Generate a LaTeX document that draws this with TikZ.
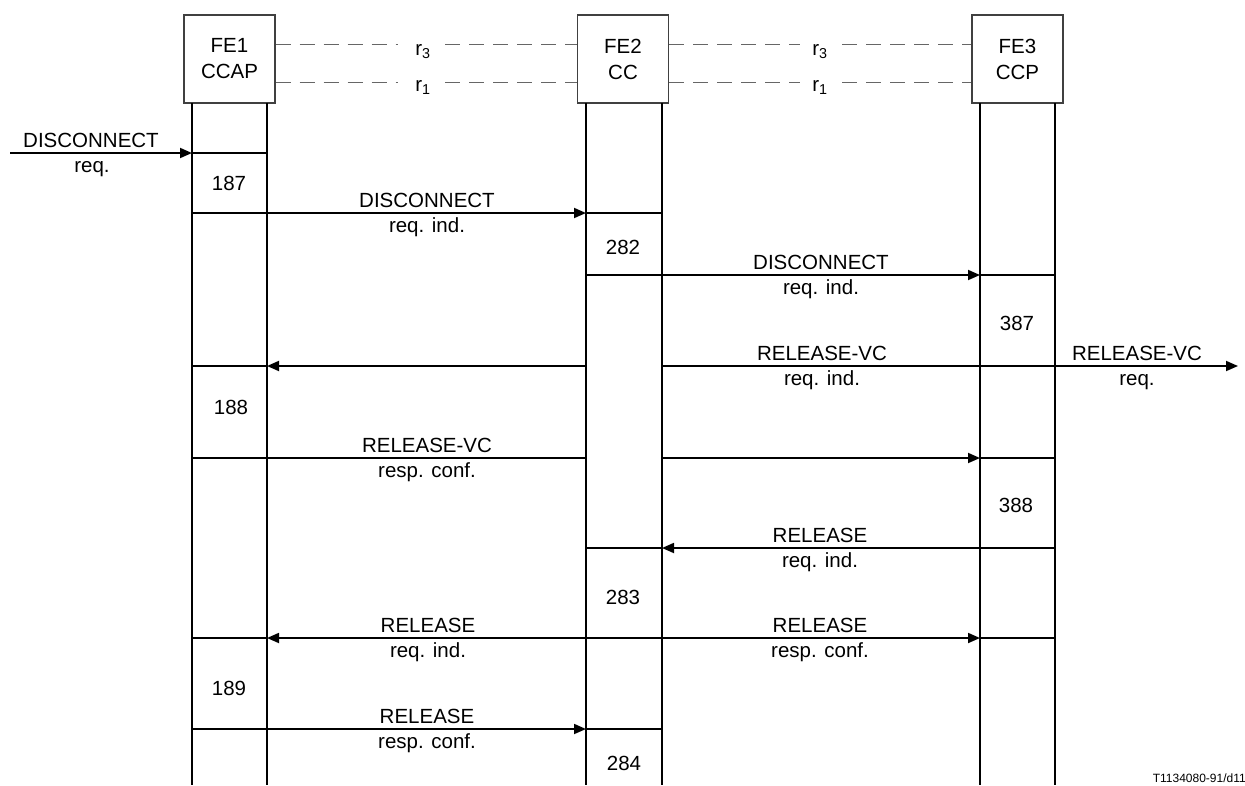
\documentclass[tikz,border=0pt]{standalone}
\usepackage{fontspec}
\setmainfont{Liberation Sans}
\usetikzlibrary{arrows.meta}
\begin{document}
\begin{tikzpicture}[x=1pt,y=-1pt,
  txt/.style={font=\fontsize{20.5}{24}\selectfont, inner sep=0pt},
  up/.style={txt, anchor=base},
  num/.style={txt},
  febox/.style={draw=black!75, line width=1.2pt, minimum width=91pt, minimum height=88pt, inner sep=0pt, align=center, font=\fontsize{20.5}{26}\selectfont},
  life/.style={line width=1.8pt},
  msg/.style={line width=1.8pt},
  arr/.style={msg, -{Triangle[length=12pt,width=10pt]}},
  dsh/.style={draw=black!60, line width=1pt, dash pattern=on 15pt off 9pt}]
\useasboundingbox (0,0) rectangle (1245,785);

% entity boxes
\node[febox] (fe1) at (229.5,59) {FE1\\CCAP};
\node[febox] (fe2) at (623,59) {FE2\\CC};
\node[febox] (fe3) at (1017.5,59) {FE3\\CCP};

% lifeline tops
\coordinate (A1) at (192,103);
\coordinate (A2) at (267,103);
\coordinate (B1) at (586,103);
\coordinate (B2) at (662,103);
\coordinate (C1) at (980,103);
\coordinate (C2) at (1055,103);
\coordinate (bot) at (0,785);
\foreach \l in {A1,A2,B1,B2,C1,C2} \draw[life] (\l) -- (\l |- bot);

% relationship lines
\coordinate (d3) at (0,44);
\coordinate (d1) at (0,82);
\coordinate (g1) at (398,0);
\coordinate (g2) at (445,0);
\coordinate (g3) at (800,0);
\coordinate (g4) at (842,0);
\draw[dsh] (fe1.east |- d3) -- (g1 |- d3);
\draw[dsh] (g2 |- d3) -- (fe2.west |- d3);
\draw[dsh] (fe1.east |- d1) -- (g1 |- d1);
\draw[dsh] (g2 |- d1) -- (fe2.west |- d1);
\draw[dsh] (fe2.east |- d3) -- (g3 |- d3);
\draw[dsh] (g4 |- d3) -- (fe3.west |- d3);
\draw[dsh] (fe2.east |- d1) -- (g3 |- d1);
\draw[dsh] (g4 |- d1) -- (fe3.west |- d1);
\node[up] (r3a) at (423,55) {r\textsubscript{3}};
\node[up] (r1a) at (423,91) {r\textsubscript{1}};
\node[up] (r3b) at (820,55) {r\textsubscript{3}};
\node[up] (r1b) at (820,91) {r\textsubscript{1}};

% rows
\coordinate (m1) at (0,153);
\coordinate (m2) at (0,213);
\coordinate (m3) at (0,275);
\coordinate (m4) at (0,366);
\coordinate (m5) at (0,458);
\coordinate (m6) at (0,548);
\coordinate (m7) at (0,638);
\coordinate (m8) at (0,729);
\coordinate (inL) at (10,153);
\coordinate (outR) at (1238,366);

% 1 DISCONNECT req.
\draw[arr] (inL) -- (A1 |- m1);
\draw[msg] (A1 |- m1) -- (A2 |- m1);
\node[up] (t1a) at (91,147) {DISCONNECT};
\node[up] (t1b) at (92,172) {req.};

% 2
\draw[arr] (A1 |- m2) -- (B1 |- m2);
\draw[msg] (B1 |- m2) -- (B2 |- m2);
\node[up] (t2a) at (427,207) {DISCONNECT};
\node[up] (t2b) at (427,232) {req. ind.};

% 3
\draw[arr] (B1 |- m3) -- (C1 |- m3);
\draw[msg] (C1 |- m3) -- (C2 |- m3);
\node[up] (t3a) at (821,269) {DISCONNECT};
\node[up] (t3b) at (821,294) {req. ind.};

% 4
\draw[arr] (B1 |- m4) -- (A2 |- m4);
\draw[msg] (A2 |- m4) -- (A1 |- m4);
\draw[arr] (B2 |- m4) -- (outR);
\node[up] (t4a) at (822,360) {RELEASE-VC};
\node[up] (t4b) at (822,385) {req. ind.};
\node[up] (t4c) at (1137,360) {RELEASE-VC};
\node[up] (t4d) at (1137,385) {req.};

% 5
\draw[msg] (A1 |- m5) -- (B1 |- m5);
\draw[arr] (B2 |- m5) -- (C1 |- m5);
\draw[msg] (C1 |- m5) -- (C2 |- m5);
\node[up] (t5a) at (427,452) {RELEASE-VC};
\node[up] (t5b) at (427,477) {resp. conf.};

% 6
\draw[arr] (C2 |- m6) -- (B2 |- m6);
\draw[msg] (B2 |- m6) -- (B1 |- m6);
\node[up] (t6a) at (820,542) {RELEASE};
\node[up] (t6b) at (820,567) {req. ind.};

% 7
\draw[arr] (B1 |- m7) -- (A2 |- m7);
\draw[msg] (A2 |- m7) -- (A1 |- m7);
\draw[msg] (B1 |- m7) -- (B2 |- m7);
\draw[arr] (B2 |- m7) -- (C1 |- m7);
\draw[msg] (C1 |- m7) -- (C2 |- m7);
\node[up] (t7a) at (428,632) {RELEASE};
\node[up] (t7b) at (428,657) {req. ind.};
\node[up] (t7c) at (820,632) {RELEASE};
\node[up] (t7d) at (820,657) {resp. conf.};

% 8
\draw[arr] (A1 |- m8) -- (B1 |- m8);
\draw[msg] (B1 |- m8) -- (B2 |- m8);
\node[up] (t8a) at (427,723) {RELEASE};
\node[up] (t8b) at (427,748) {resp. conf.};

% block numbers
\node[num] (n187) at (229,183) {187};
\node[num] (n282) at (623,247) {282};
\node[num] (n387) at (1017,323) {387};
\node[num] (n188) at (231,407) {188};
\node[num] (n388) at (1016,505) {388};
\node[num] (n283) at (623,597) {283};
\node[num] (n189) at (229,688) {189};
\node[num] (n284) at (624,763) {284};

% figure code
\node[anchor=base east, inner sep=0pt, font=\fontsize{12}{14}\selectfont] (code) at (1246,782) {T1134080-91/d11};
\end{tikzpicture}
\end{document}
